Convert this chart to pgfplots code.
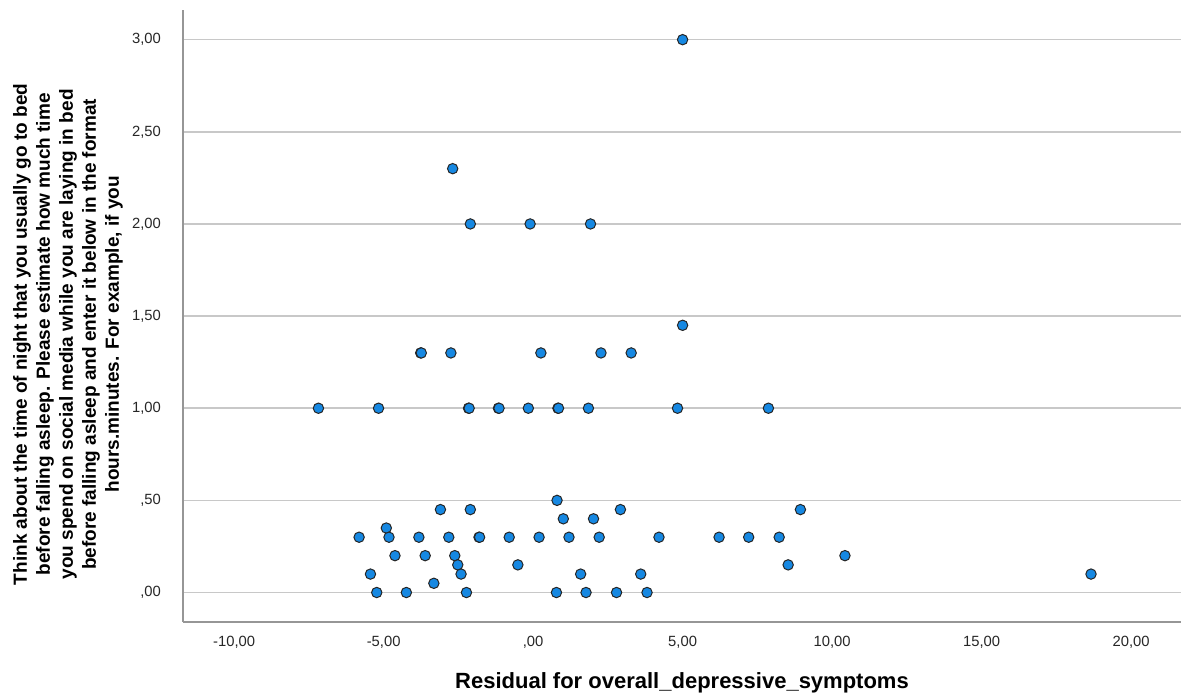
\documentclass[border=0pt]{standalone}
\usepackage{fontspec}
\setmainfont{Liberation Sans}
\usepackage{pgfplots}
\pgfplotsset{compat=1.18}
\definecolor{ptblue}{RGB}{22,136,226}
\definecolor{gridgray}{RGB}{200,200,200}
\definecolor{axgray}{RGB}{150,150,150}
\begin{document}
\begin{tikzpicture}
\useasboundingbox (0,0) rectangle (590.5pt,349.5pt);
\begin{axis}[
  at={(91.5pt,38.5pt)}, anchor=south west,
  scale only axis, width=499pt, height=306pt,
  xmin=-11.71, xmax=21.67, ymin=-0.160, ymax=3.161,
  axis x line*=bottom, axis y line*=left,
  axis line style={-, draw=axgray, line width=0.8pt},
  major tick length=0pt,
  xtick={-10,-5,0,5,10,15,20},
  xticklabels={{-10,00},{-5,00},{,00},{5,00},{10,00},{15,00},{20,00}},
  ytick={0,0.5,1,1.5,2,2.5,3},
  yticklabels={{,00},{,50},{1,00},{1,50},{2,00},{2,50},{3,00}},
  ymajorgrids,
  major grid style={draw=gridgray, line width=0.8pt},
  tick label style={font=\fontsize{7.4}{9}\selectfont, text=black!85},
  xticklabel style={yshift=-3.8pt},
  yticklabel style={xshift=-7.5pt},
  xlabel={Residual for overall\_depressive\_symptoms},
  xlabel style={font=\fontsize{11}{13}\bfseries, at={(axis description cs:0.5,0)}, anchor=center, yshift=-30.5pt},
  ylabel={Think about the time of night that you usually go to bed\\before falling asleep. Please estimate how much time\\you spend on social media while you are laying in bed\\before falling asleep and enter it below in the format\\hours.minutes.  For example, if you},
  ylabel style={font=\fontsize{9.5}{11.5}\bfseries\selectfont, align=center, at={(axis description cs:-0.1152,0.47)}, anchor=center, rotate=0},
  clip=false,
]
\addplot[only marks, mark=*, mark size=2.6pt, mark options={fill=ptblue, draw=black!85, line width=0.5pt}] coordinates {
(5.0,3.00)
(-2.69,2.30)
(-2.10,2.00) (-0.10,2.00) (1.92,2.00)
(5.0,1.45)
(-3.76,1.30) (-3.74,1.30) (-2.75,1.30) (0.26,1.30) (2.27,1.30) (3.28,1.30)
(-7.18,1.00) (-5.17,1.00) (-2.16,1.00) (-2.14,1.00) (-1.16,1.00) (-1.14,1.00) (-0.16,1.00) (0.83,1.00) (0.85,1.00) (1.85,1.00) (4.83,1.00) (7.87,1.00)
(0.80,0.50)
(-3.10,0.45) (-2.10,0.45) (2.92,0.45) (8.94,0.45)
(1.01,0.40) (2.02,0.40)
(-4.91,0.35)
(-5.82,0.30) (-4.82,0.30) (-3.82,0.30) (-2.82,0.30) (-1.81,0.30) (-1.79,0.30) (-0.80,0.30) (0.20,0.30) (1.20,0.30) (2.21,0.30) (4.21,0.30) (6.22,0.30) (7.21,0.30) (8.23,0.30)
(-4.62,0.20) (-3.61,0.20) (-2.62,0.20) (10.43,0.20)
(-2.52,0.15) (-0.51,0.15) (8.53,0.15)
(-5.44,0.10) (-2.41,0.10) (1.59,0.10) (3.60,0.10) (18.66,0.10)
(-3.32,0.05)
(-5.23,0.00) (-4.24,0.00) (-2.23,0.00) (0.78,0.00) (1.77,0.00) (2.79,0.00) (3.81,0.00)
};
\end{axis}
\end{tikzpicture}
\end{document}
